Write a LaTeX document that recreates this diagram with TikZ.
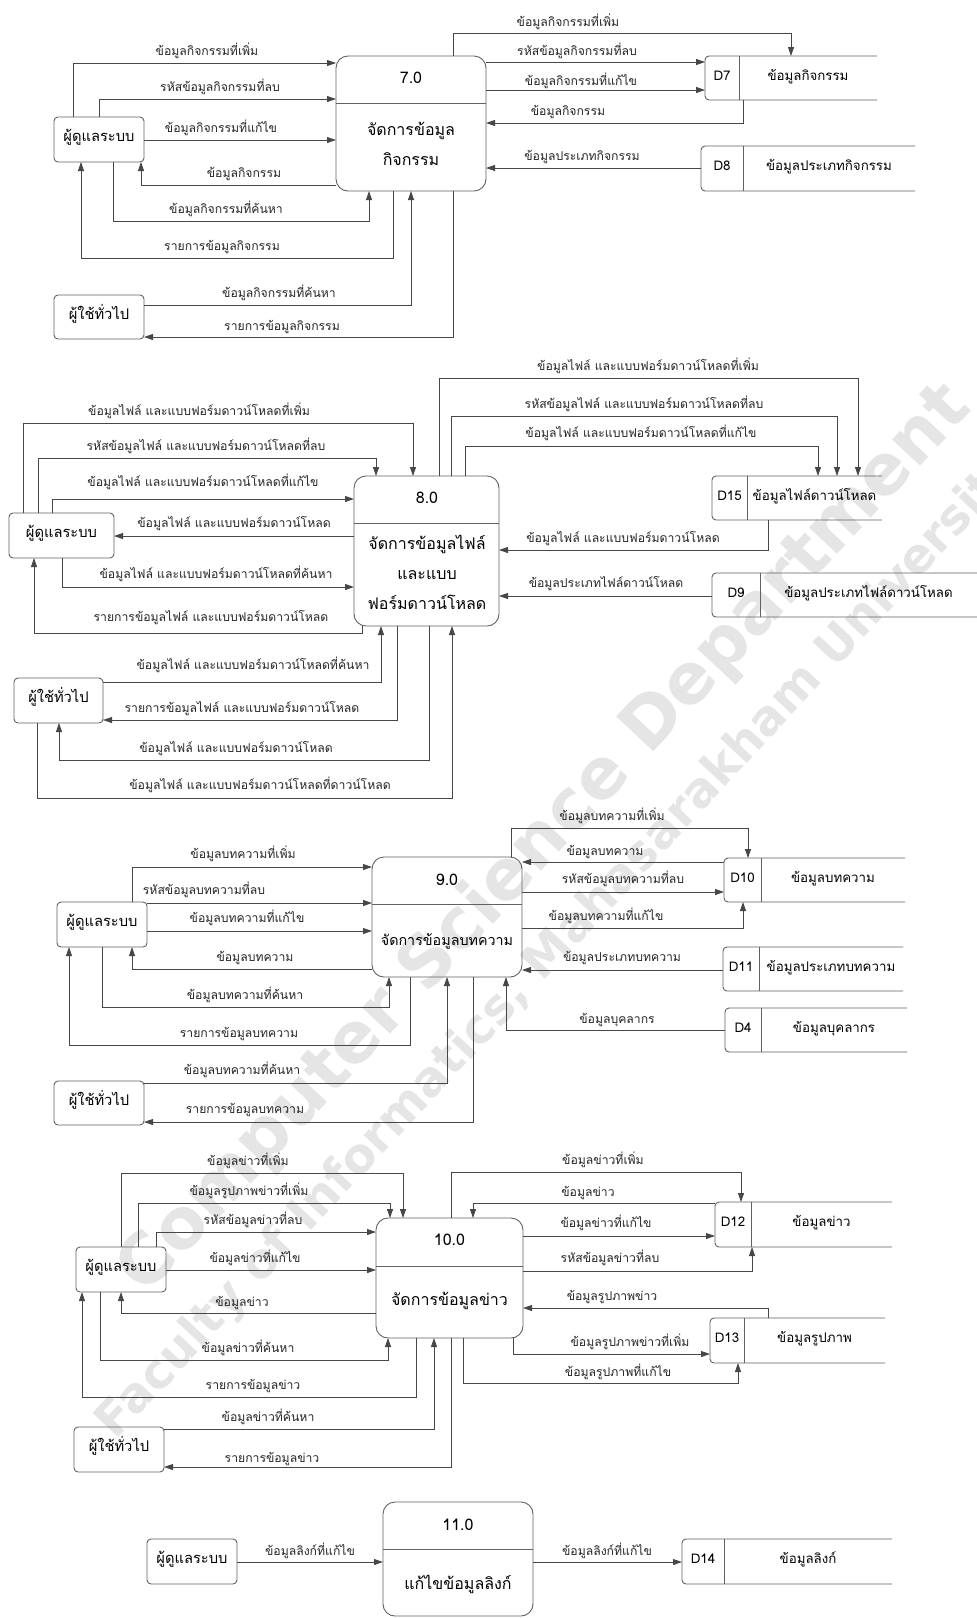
\documentclass[tikz,border=0pt]{standalone}
\usepackage{fontspec}
\newfontfamily\thai[Script=Thai]{Loma}
\newfontfamily\wmfont{DejaVu Sans}
\usetikzlibrary{arrows.meta,calc,fit}

\newcommand{\dstore}[8]{%
  \node[fit={(#2,#3) (#4,#5)}] (#1) {};
  \draw[boxline, rounded corners=4pt] (#1.north east) -- (#1.north west) -- (#1.south west) -- (#1.south east);
  \draw[boxline] ($(#1.north west)+(#6,0)$) -- ($(#1.south west)+(#6,0)$);
  \node[stext] (#1id) at ($(#1.west)+(#6/2,0)$) {#7};
  \node[stext] (#1nm) at ($(#1.center)+(#6/2,0)$) {#8};
}

\begin{document}
\begin{tikzpicture}[x=1pt,y=-1pt,
  every node/.style={inner sep=0pt, outer sep=0pt},
  flow/.style={draw=black!72, line width=0.8pt, -{Triangle[length=9pt,width=6pt]}},
  boxline/.style={draw=black!62, line width=0.9pt},
  entity/.style={boxline, rounded corners=4pt},
  etext/.style={font=\thai\fontsize{14.7}{17}\selectfont, anchor=mid},
  proc/.style={boxline, rounded corners=12pt},
  ptext/.style={font=\thai\fontsize{16}{19}\selectfont, anchor=mid},
  stext/.style={font=\thai\fontsize{13.3}{16}\selectfont, anchor=mid},
  lab/.style={font=\thai\fontsize{12.2}{14}\selectfont, anchor=base, text=black!85},
  wmark/.style={rotate=47, text=black!10, font=\wmfont\bfseries},
]
\useasboundingbox (0,0) rectangle (977,1618);
\fill[white] (0,0) rectangle (977,1618);
\begin{scope}
\clip (0,0) rectangle (977,1618);
\node[wmark, font=\wmfont\bfseries\fontsize{70}{76}\selectfont] (wm1) at (545,840) {Computer Science Department};
\node[wmark, font=\wmfont\bfseries\fontsize{48}{52}\selectfont] (wm2) at (560,945) {Faculty of Informatics, Mahasarakham University};
\end{scope}

% ================= 7.0 =================
\node[entity, fit={(54,117) (144,162)}] (A7) {};
\node[etext] (A7t) at (A7) {ผู้ดูแลระบบ};
\node[entity, fit={(54,295) (144,339)}] (U7) {};
\node[etext] (U7t) at (U7) {ผู้ใช้ทั่วไป};
\node[proc, fit={(336,56) (486,191)}] (P7) {};
\draw[boxline] ($(P7.north west)+(0,47)$) -- ($(P7.north east)+(0,47)$);
\node[ptext] (P7n) at (411,81) {7.0};
\node[ptext] (P7a) at (411,133) {จัดการข้อมูล};
\node[ptext] (P7b) at (411,163) {กิจกรรม};
\dstore{D7}{705}{56}{877}{100}{34}{D7}{ข้อมูลกิจกรรม}
\dstore{D8}{701}{146}{915}{191}{42}{D8}{ข้อมูลประเภทกิจกรรม}

\draw[flow] ($(A7.north west)+(19,0)$) |- ($(P7.north west)+(0,7)$);
\draw[flow] ($(A7.north west)+(45,0)$) |- ($(P7.north west)+(0,43)$);
\draw[flow] ($(A7.north east)+(0,23)$) -- ($(P7.north west)+(0,84)$);
\draw[flow] ($(P7.north west)+(0,129)$) -| ($(A7.south west)+(87,0)$);
\draw[flow] ($(A7.south west)+(59,0)$) |- ($(P7.south west)+(33,30)$) -- ($(P7.south west)+(33,0)$);
\draw[flow] ($(P7.south west)+(57,0)$) |- ($(A7.south west)+(27,96)$) -- ($(A7.south west)+(27,0)$);
\draw[flow] ($(U7.north east)+(0,10)$) -| (P7.south);
\draw[flow] ($(P7.south west)+(117,0)$) |- ($(U7.south east)+(0,-2)$);
\draw[flow] ($(P7.north west)+(117,0)$) |- ($(D7.north west)+(86,-23)$) -- ($(D7.north west)+(86,0)$);
\draw[flow] ($(P7.north east)+(0,6)$) -- ($(D7.north west)+(0,6)$);
\draw[flow] ($(P7.north east)+(0,34)$) -- ($(D7.north west)+(0,34)$);
\draw[flow] ($(D7.south west)+(38,0)$) |- ($(P7.north east)+(0,67)$);
\draw[flow] ($(D8.north west)+(0,22)$) -- ($(P7.north east)+(0,112)$);

\node[lab] (l7a) at (207,55) {ข้อมูลกิจกรรมที่เพิ่ม};
\node[lab] (l7b) at (220,91) {รหัสข้อมูลกิจกรรมที่ลบ};
\node[lab] (l7c) at (221,132) {ข้อมูลกิจกรรมที่แก้ไข};
\node[lab] (l7d) at (244,177) {ข้อมูลกิจกรรม};
\node[lab] (l7e) at (226,213) {ข้อมูลกิจกรรมที่ค้นหา};
\node[lab] (l7f) at (222,250) {รายการข้อมูลกิจกรรม};
\node[lab] (l7g) at (279,297) {ข้อมูลกิจกรรมที่ค้นหา};
\node[lab] (l7h) at (282,330) {รายการข้อมูลกิจกรรม};
\node[lab] (l7i) at (568,26) {ข้อมูลกิจกรรมที่เพิ่ม};
\node[lab] (l7j) at (577,55) {รหัสข้อมูลกิจกรรมที่ลบ};
\node[lab] (l7k) at (581,85) {ข้อมูลกิจกรรมที่แก้ไข};
\node[lab] (l7l) at (568,115) {ข้อมูลกิจกรรม};
\node[lab] (l7m) at (582,160) {ข้อมูลประเภทกิจกรรม};

% ================= 8.0 =================
\node[entity, fit={(9,513) (114,558)}] (A8) {};
\node[etext] (A8t) at (A8) {ผู้ดูแลระบบ};
\node[entity, fit={(14,678) (103,723)}] (U8) {};
\node[etext] (U8t) at (U8) {ผู้ใช้ทั่วไป};
\node[proc, fit={(354,476) (499,626)}] (P8) {};
\draw[boxline] ($(P8.north west)+(0,47)$) -- ($(P8.north east)+(0,47)$);
\node[ptext] (P8n) at (427,501) {8.0};
\node[ptext] (P8a) at (427,547) {จัดการข้อมูลไฟล์};
\node[ptext] (P8b) at (427,577) {และแบบ};
\node[ptext] (P8c) at (427,607) {ฟอร์มดาวน์โหลด};
\dstore{D15}{712}{476}{882}{520}{35}{D15}{ข้อมูลไฟล์ดาวน์โหลด}
\dstore{D9}{712}{573}{977}{617}{48}{D9}{ข้อมูลประเภทไฟล์ดาวน์โหลด}

\draw[flow] ($(A8.north west)+(14,0)$) |- ($(P8.north west)+(59,-53)$) -- ($(P8.north west)+(59,0)$);
\draw[flow] ($(A8.north west)+(29,0)$) |- ($(P8.north west)+(22,-18)$) -- ($(P8.north west)+(22,0)$);
\draw[flow] ($(A8.north west)+(43,0)$) |- ($(P8.north west)+(0,23)$);
\draw[flow] ($(P8.north west)+(0,60)$) -- ($(A8.north east)+(0,23)$);
\draw[flow] ($(A8.south west)+(53,0)$) |- ($(P8.north west)+(0,111)$);
\draw[flow] ($(P8.south west)+(8,0)$) |- ($(A8.south west)+(25,75)$) -- ($(A8.south west)+(25,0)$);
\draw[flow] ($(U8.north east)+(0,4)$) -| ($(P8.south west)+(27,0)$);
\draw[flow] ($(P8.south west)+(43,0)$) |- ($(U8.north east)+(0,42)$);
\draw[flow] ($(P8.south west)+(75,0)$) |- ($(U8.south west)+(45,37)$) -- ($(U8.south west)+(45,0)$);
\draw[flow] ($(U8.south west)+(23,0)$) |- ($(P8.south west)+(98,172)$) -- ($(P8.south west)+(98,0)$);
\draw[flow] ($(P8.north west)+(85,0)$) |- ($(D15.north west)+(146,-98)$) -- ($(D15.north west)+(146,0)$);
\draw[flow] ($(P8.north west)+(97,0)$) |- ($(D15.north west)+(125,-60)$) -- ($(D15.north west)+(125,0)$);
\draw[flow] ($(P8.north west)+(111,0)$) |- ($(D15.north west)+(106,-30)$) -- ($(D15.north west)+(106,0)$);
\draw[flow] ($(D15.south west)+(56,0)$) |- ($(P8.north east)+(0,74)$);
\draw[flow] ($(D9.north west)+(0,23)$) -- ($(P8.north east)+(0,120)$);

\node[lab] (l8a) at (199,415) {ข้อมูลไฟล์ และแบบฟอร์มดาวน์โหลดที่เพิ่ม};
\node[lab] (l8b) at (206,450) {รหัสข้อมูลไฟล์ และแบบฟอร์มดาวน์โหลดที่ลบ};
\node[lab] (l8c) at (203,486) {ข้อมูลไฟล์ และแบบฟอร์มดาวน์โหลดที่แก้ไข};
\node[lab] (l8d) at (234,527) {ข้อมูลไฟล์ และแบบฟอร์มดาวน์โหลด};
\node[lab] (l8e) at (216,578) {ข้อมูลไฟล์ และแบบฟอร์มดาวน์โหลดที่ค้นหา};
\node[lab] (l8f) at (211,621) {รายการข้อมูลไฟล์ และแบบฟอร์มดาวน์โหลด};
\node[lab] (l8g) at (253,669) {ข้อมูลไฟล์ และแบบฟอร์มดาวน์โหลดที่ค้นหา};
\node[lab] (l8h) at (242,712) {รายการข้อมูลไฟล์ และแบบฟอร์มดาวน์โหลด};
\node[lab] (l8i) at (236,752) {ข้อมูลไฟล์ และแบบฟอร์มดาวน์โหลด};
\node[lab] (l8j) at (260,789) {ข้อมูลไฟล์ และแบบฟอร์มดาวน์โหลดที่ดาวน์โหลด};
\node[lab] (l8k) at (648,370) {ข้อมูลไฟล์ และแบบฟอร์มดาวน์โหลดที่เพิ่ม};
\node[lab] (l8l) at (644,408) {รหัสข้อมูลไฟล์ และแบบฟอร์มดาวน์โหลดที่ลบ};
\node[lab] (l8m) at (641,437) {ข้อมูลไฟล์ และแบบฟอร์มดาวน์โหลดที่แก้ไข};
\node[lab] (l8n) at (623,542) {ข้อมูลไฟล์ และแบบฟอร์มดาวน์โหลด};
\node[lab] (l8o) at (606,587) {ข้อมูลประเภทไฟล์ดาวน์โหลด};

% ================= 9.0 =================
\node[entity, fit={(57,902) (147,947)}] (A9) {};
\node[etext] (A9t) at (A9) {ผู้ดูแลระบบ};
\node[entity, fit={(54,1081) (144,1125)}] (U9) {};
\node[etext] (U9t) at (U9) {ผู้ใช้ทั่วไป};
\node[proc, fit={(372,857) (522,977)}] (P9) {};
\draw[boxline] ($(P9.north west)+(0,47)$) -- ($(P9.north east)+(0,47)$);
\node[ptext] (P9n) at (447,883) {9.0};
\node[ptext, font=\thai\fontsize{14.3}{17}\selectfont] (P9a) at (447,943) {จัดการข้อมูลบทความ};
\dstore{D10}{724}{858}{905}{902}{37}{D10}{ข้อมูลบทความ}
\dstore{D11}{723}{947}{903}{991}{36}{D11}{ข้อมูลประเภทบทความ}
\dstore{D4}{725}{1008}{907}{1052}{36}{D4}{ข้อมูลบุคลากร}

\draw[flow] ($(A9.north west)+(75,0)$) |- ($(P9.north west)+(0,10)$);
\draw[flow] ($(A9.north east)+(0,1)$) -- ($(P9.north west)+(0,46)$);
\draw[flow] ($(A9.north east)+(0,29)$) -- ($(P9.north west)+(0,74)$);
\draw[flow] ($(P9.north west)+(0,112)$) -| ($(A9.south west)+(75,0)$);
\draw[flow] ($(A9.south west)+(45,0)$) |- ($(P9.south west)+(17,30)$) -- ($(P9.south west)+(17,0)$);
\draw[flow] ($(P9.south west)+(38,0)$) |- ($(A9.south west)+(12,98)$) -- ($(A9.south west)+(12,0)$);
\draw[flow] ($(U9.north east)+(0,2)$) -| ($(P9.south west)+(75,0)$);
\draw[flow] ($(P9.south west)+(101,0)$) |- ($(U9.north east)+(0,41)$);
\draw[flow] ($(P9.north west)+(139,0)$) |- ($(D10.north west)+(24,-30)$) -- ($(D10.north west)+(24,0)$);
\draw[flow] ($(D10.north west)+(0,4)$) -- ($(P9.north east)+(0,5)$);
\draw[flow] ($(P9.north east)+(0,35)$) -- ($(D10.north west)+(0,34)$);
\draw[flow] ($(P9.north east)+(0,71)$) -| ($(D10.south west)+(19,0)$);
\draw[flow] ($(D11.north west)+(0,23)$) -- ($(P9.north east)+(0,113)$);
\draw[flow] ($(D4.north west)+(0,22)$) -| ($(P9.south west)+(134,0)$);

\node[lab] (l9a) at (243,858) {ข้อมูลบทความที่เพิ่ม};
\node[lab] (l9b) at (204,894) {รหัสข้อมูลบทความที่ลบ};
\node[lab] (l9c) at (247,922) {ข้อมูลบทความที่แก้ไข};
\node[lab] (l9d) at (255,961) {ข้อมูลบทความ};
\node[lab] (l9e) at (245,999) {ข้อมูลบทความที่ค้นหา};
\node[lab] (l9f) at (239,1037) {รายการข้อมูลบทความ};
\node[lab] (l9g) at (242,1074) {ข้อมูลบทความที่ค้นหา};
\node[lab] (l9h) at (245,1113) {รายการข้อมูลบทความ};
\node[lab] (l9i) at (612,820) {ข้อมูลบทความที่เพิ่ม};
\node[lab] (l9j) at (605,855) {ข้อมูลบทความ};
\node[lab] (l9k) at (623,883) {รหัสข้อมูลบทความที่ลบ};
\node[lab] (l9l) at (606,920) {ข้อมูลบทความที่แก้ไข};
\node[lab] (l9m) at (622,961) {ข้อมูลประเภทบทความ};
\node[lab] (l9n) at (617,1023) {ข้อมูลบุคลากร};

% ================= 10.0 =================
\node[entity, fit={(76,1247) (166,1292)}] (A10) {};
\node[etext] (A10t) at (A10) {ผู้ดูแลระบบ};
\node[entity, fit={(74,1427) (164,1472)}] (U10) {};
\node[etext] (U10t) at (U10) {ผู้ใช้ทั่วไป};
\node[proc, fit={(376,1218) (523,1338)}] (P10) {};
\draw[boxline] ($(P10.north west)+(0,48)$) -- ($(P10.north east)+(0,48)$);
\node[ptext] (P10n) at (449.5,1243) {10.0};
\node[ptext] (P10a) at (449.5,1303) {จัดการข้อมูลข่าว};
\dstore{D12}{715}{1202}{892}{1247}{36}{D12}{ข้อมูลข่าว}
\dstore{D13}{710}{1318}{885}{1363}{34}{D13}{ข้อมูลรูปภาพ}

\draw[flow] ($(A10.north west)+(45,0)$) |- ($(P10.north west)+(27,-45)$) -- ($(P10.north west)+(27,0)$);
\draw[flow] ($(A10.north west)+(62,0)$) |- ($(P10.north west)+(14,-15)$) -- ($(P10.north west)+(14,0)$);
\draw[flow] ($(A10.north west)+(80,0)$) |- ($(P10.north west)+(0,14)$);
\draw[flow] ($(A10.north east)+(0,23)$) -- ($(P10.north west)+(0,52)$);
\draw[flow] ($(P10.north west)+(0,95)$) -| ($(A10.south west)+(45,0)$);
\draw[flow] ($(A10.south west)+(24,0)$) |- ($(P10.south west)+(12,22)$) -- ($(P10.south west)+(12,0)$);
\draw[flow] ($(P10.south west)+(40,0)$) |- ($(A10.south west)+(6,105)$) -- ($(A10.south west)+(6,0)$);
\draw[flow] ($(U10.north east)+(0,2)$) -| ($(P10.south west)+(58,0)$);
\draw[flow] ($(P10.south west)+(75,0)$) |- ($(U10.north east)+(0,40)$);
\draw[flow] ($(P10.north west)+(75,0)$) |- ($(D12.north west)+(26,-30)$) -- ($(D12.north west)+(26,0)$);
\draw[flow] ($(D12.north west)+(0,1)$) -| ($(P10.north west)+(97,0)$);
\draw[flow] ($(P10.north east)+(0,18)$) -- ($(D12.north west)+(0,34)$);
\draw[flow] ($(P10.north east)+(0,53)$) -| ($(D12.south west)+(37,0)$);
\draw[flow] ($(D13.north west)+(58,0)$) |- ($(P10.north east)+(0,90)$);
\draw[flow] ($(P10.south west)+(137,0)$) |- ($(D13.north west)+(0,36)$);
\draw[flow] ($(P10.south west)+(87,0)$) |- ($(D13.south west)+(28,20)$) -- ($(D13.south west)+(28,0)$);

\node[lab] (l10a) at (248,1165) {ข้อมูลข่าวที่เพิ่ม};
\node[lab] (l10b) at (249,1195) {ข้อมูลรูปภาพข่าวที่เพิ่ม};
\node[lab] (l10c) at (253,1224) {รหัสข้อมูลข่าวที่ลบ};
\node[lab] (l10d) at (255,1262) {ข้อมูลข่าวที่แก้ไข};
\node[lab] (l10e) at (242,1306) {ข้อมูลข่าว};
\node[lab] (l10f) at (248,1352) {ข้อมูลข่าวที่ค้นหา};
\node[lab] (l10g) at (253,1389) {รายการข้อมูลข่าว};
\node[lab] (l10h) at (268,1421) {ข้อมูลข่าวที่ค้นหา};
\node[lab] (l10i) at (272,1462) {รายการข้อมูลข่าว};
\node[lab] (l10j) at (603,1164) {ข้อมูลข่าวที่เพิ่ม};
\node[lab] (l10k) at (588,1196) {ข้อมูลข่าว};
\node[lab] (l10l) at (606,1227) {ข้อมูลข่าวที่แก้ไข};
\node[lab] (l10m) at (610,1262) {รหัสข้อมูลข่าวที่ลบ};
\node[lab] (l10n) at (612,1300) {ข้อมูลรูปภาพข่าว};
\node[lab] (l10o) at (630,1346) {ข้อมูลรูปภาพข่าวที่เพิ่ม};
\node[lab] (l10p) at (618,1376) {ข้อมูลรูปภาพที่แก้ไข};

% ================= 11.0 =================
\node[entity, fit={(147,1539) (237,1584)}] (A11) {};
\node[etext] (A11t) at (A11) {ผู้ดูแลระบบ};
\node[proc, fit={(383,1502) (533,1616)}] (P11) {};
\draw[boxline] ($(P11.north west)+(0,47)$) -- ($(P11.north east)+(0,47)$);
\node[ptext] (P11n) at (458,1528) {11.0};
\node[ptext] (P11a) at (458,1587) {แก้ไขข้อมูลลิงก์};
\dstore{D14}{682}{1539}{892}{1584}{42}{D14}{ข้อมูลลิงก์}

\draw[flow] ($(A11.north east)+(0,23)$) -- ($(P11.north west)+(0,60)$);
\draw[flow] ($(P11.north east)+(0,60)$) -- ($(D14.north west)+(0,23)$);

\node[lab] (l11a) at (310,1555) {ข้อมูลลิงก์ที่แก้ไข};
\node[lab] (l11b) at (607,1555) {ข้อมูลลิงก์ที่แก้ไข};
\end{tikzpicture}
\end{document}
